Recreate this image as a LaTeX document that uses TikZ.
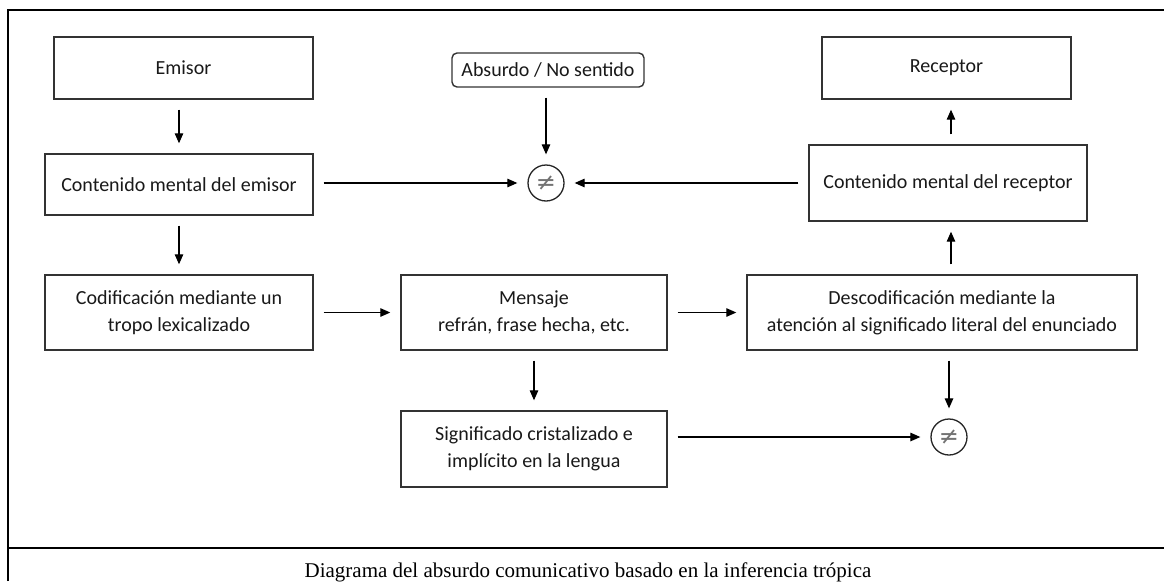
\documentclass[tikz,border=0pt]{standalone}
\usepackage{fontspec}
\setmainfont{Liberation Serif}
\newfontfamily\boxfont{Carlito}
\newfontfamily\symfont{DejaVu Sans}
\usetikzlibrary{arrows.meta}
\begin{document}
\begin{tikzpicture}[x=1pt,y=-1pt,
  box/.style={draw=black!80, line width=1.4pt, inner sep=0pt, align=center,
    font=\boxfont\fontsize{20}{27}\selectfont, text=black!90},
  neqc/.style={circle, draw=black!85, line width=1.3pt, minimum size=36pt,
    inner sep=0pt, text=black!55, font=\symfont\fontsize{24}{24}\selectfont},
  arr/.style={-{Triangle[length=10pt,width=8.5pt]}, line width=1.2pt,
    shorten <=10pt, shorten >=10pt},
  outerline/.style={line width=2.5pt}]
\useasboundingbox (0,0) rectangle (1164,581);
\fill[white] (0,0) rectangle (1164,581);

% outer frame and caption rule
\draw[outerline] (8,581) -- (8,10) -- (1164,10);
\draw[outerline] (8,548) -- (1164,548);

% boxes
\node[box, minimum width=259pt, minimum height=62pt] (emisor) at (183.5,68) {Emisor};
\node[box, minimum width=268pt, minimum height=61pt] (cme) at (179,184.5) {Contenido mental del emisor};
\node[box, minimum width=268pt, minimum height=75pt] (cod) at (179,312.5) {Codificación mediante un\\tropo lexicalizado};
\node[box, minimum width=266pt, minimum height=75pt] (men) at (534,312.5) {Mensaje\\refrán, frase hecha, etc.};
\node[box, minimum width=266pt, minimum height=76pt] (sig) at (534,449) {Significado cristalizado e\\implícito en la lengua};
\node[box, minimum width=390pt, minimum height=75pt] (des) at (942,312.5) {Descodificación mediante la\\atención al significado literal del enunciado};
\node[box, minimum width=249pt, minimum height=62pt] (rec) at (946.5,68) {Receptor};
\node[box, minimum width=278pt, minimum height=76pt] (cmr) at (948,183) {Contenido mental del receptor};
\node[box, rounded corners=5pt, minimum width=192pt, minimum height=34pt] (abs) at (548,70) {Absurdo / No sentido};

% inequality marks
\node[neqc] (neqa) at (546,183) {≠};
\node[neqc] (neqb) at (949,437) {≠};

% connectors
\draw[arr] (emisor.south -| cme) -- (cme.north);
\draw[arr] (cme.south) -- (cod.north);
\draw[arr] (cme.east |- neqa) -- (neqa.west);
\draw[arr] (cmr.west |- neqa) -- (neqa.east);
\draw[arr] (abs.south -| neqa) -- (neqa.north);
\draw[arr] (cod.east) -- (men.west);
\draw[arr] (men.east) -- (des.west);
\draw[arr] (men.south) -- (sig.north);
\draw[arr] (des.south -| neqb) -- (neqb.north);
\draw[arr] (sig.east |- neqb) -- (neqb.west);
\draw[arr] (cmr.north -| 951,0) -- (rec.south -| 951,0);
\draw[arr] (des.north -| 951,0) -- (cmr.south -| 951,0);

% caption
\node[anchor=base, font=\fontsize{21}{21}\selectfont] (cap) at (588,577)
  {Diagrama del absurdo comunicativo basado en la inferencia trópica};
\end{tikzpicture}
\end{document}
